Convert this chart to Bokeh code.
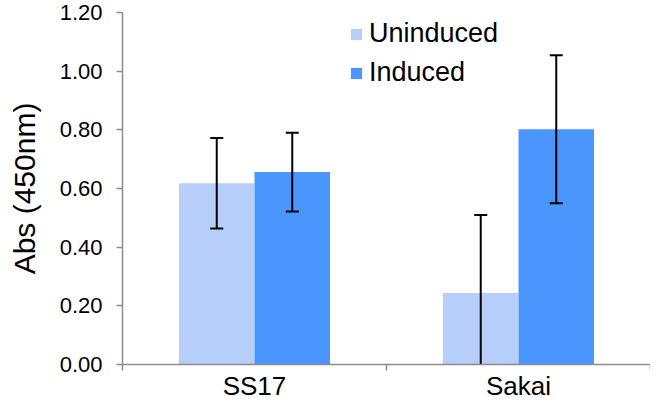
from bokeh.plotting import figure
from bokeh.models import (Range1d, FixedTicker, Whisker, TeeHead, ColumnDataSource,
                          Legend, LegendItem, PrintfTickFormatter)
from bokeh.embed import file_html
from bokeh.resources import INLINE

categories = ["SS17", "Sakai"]
series_names = ["Uninduced", "Induced"]
uninduced = [0.618, 0.244]
induced = [0.656, 0.802]
uninduced_err = [0.154, 0.266]
induced_err = [0.134, 0.252]
y_ticks = [0.0, 0.2, 0.4, 0.6, 0.8, 1.0, 1.2]

colors = ["#B7CEFA", "#4A96FE"]
axis_color = "#8C8C8C"
FONT = "Liberation Sans"

bar_w = 0.286
offsets = [-bar_w / 2, bar_w / 2]
centers = [i + 0.5 for i in range(len(categories))]

p = figure(width=650, height=403, output_backend="svg", toolbar_location=None,
           x_range=Range1d(0, len(categories)), y_range=Range1d(0, 1.2),
           min_border_left=122, min_border_right=0, min_border_top=12, min_border_bottom=0,
           min_border=0)
p.outline_line_color = None
p.xgrid.visible = False
p.ygrid.visible = False
p.background_fill_color = "white"

renderers = []
for k, (vals, errs) in enumerate([(uninduced, uninduced_err), (induced, induced_err)]):
    xs = [c + offsets[k] for c in centers]
    src = ColumnDataSource(dict(x=xs, top=vals))
    r = p.vbar(x="x", top="top", width=bar_w, bottom=0, source=src,
               fill_color=colors[k], line_color=None)
    renderers.append(r)
    full = dict(x=[], lo=[], hi=[])
    clipped = dict(x=[], lo=[], hi=[])
    for x, v, e in zip(xs, vals, errs):
        d = full if v - e > 0 else clipped
        d["x"].append(x)
        d["lo"].append(max(0.0, v - e))
        d["hi"].append(v + e)
    w1 = Whisker(source=ColumnDataSource(full), base="x", lower="lo", upper="hi",
                 line_color="black", line_width=2, level="glyph",
                 upper_head=TeeHead(size=13, line_color="black", line_width=2),
                 lower_head=TeeHead(size=13, line_color="black", line_width=2))
    w2 = Whisker(source=ColumnDataSource(clipped), base="x", lower="lo", upper="hi",
                 line_color="black", line_width=2, level="glyph",
                 upper_head=TeeHead(size=13, line_color="black", line_width=2),
                 lower_head=None)
    p.add_layout(w1)
    p.add_layout(w2)

# x axis
xa = p.xaxis[0]
xa.ticker = FixedTicker(ticks=centers, minor_ticks=list(range(len(categories) + 1)))
xa.major_label_overrides = {c: name for c, name in zip(centers, categories)}
xa.major_tick_line_color = None
xa.major_tick_out = 0
xa.major_tick_in = 0
xa.minor_tick_out = 6
xa.minor_tick_in = 0
xa.minor_tick_line_color = axis_color
xa.minor_tick_line_width = 1.5
xa.axis_line_color = axis_color
xa.axis_line_width = 1.5
xa.major_label_text_font = FONT
xa.major_label_text_font_size = "26px"
xa.major_label_text_color = "black"
xa.major_label_standoff = 0
xa.axis_label = None
xa.axis_label_standoff = 0

# y axis
ya = p.yaxis[0]
ya.ticker = FixedTicker(ticks=y_ticks)
ya.formatter = PrintfTickFormatter(format="%.2f")
ya.major_tick_out = 6
ya.major_tick_in = 0
ya.minor_tick_line_color = None
ya.major_tick_line_color = axis_color
ya.major_tick_line_width = 1.5
ya.axis_line_color = axis_color
ya.axis_line_width = 1.5
ya.major_label_text_font = FONT
ya.major_label_text_font_size = "22px"
ya.major_label_text_color = "black"
ya.major_label_standoff = 14
ya.axis_label = "Abs (450nm)"
ya.axis_label_text_font = FONT
ya.axis_label_text_font_size = "30px"
ya.axis_label_text_font_style = "normal"
ya.axis_label_text_color = "black"
ya.axis_label_standoff = 16

legend = Legend(items=[LegendItem(label=n, renderers=[r]) for n, r in zip(series_names, renderers)],
                location=(227, 276), orientation="vertical")
legend.glyph_width = 14
legend.glyph_height = 14
legend.label_text_font = FONT
legend.label_text_font_size = "27px"
legend.label_text_color = "black"
legend.label_standoff = 6
legend.spacing = 8
legend.padding = 0
legend.margin = 0
legend.border_line_color = None
legend.background_fill_alpha = 0
p.add_layout(legend)

open("out.html", "w").write(file_html(p, INLINE))
